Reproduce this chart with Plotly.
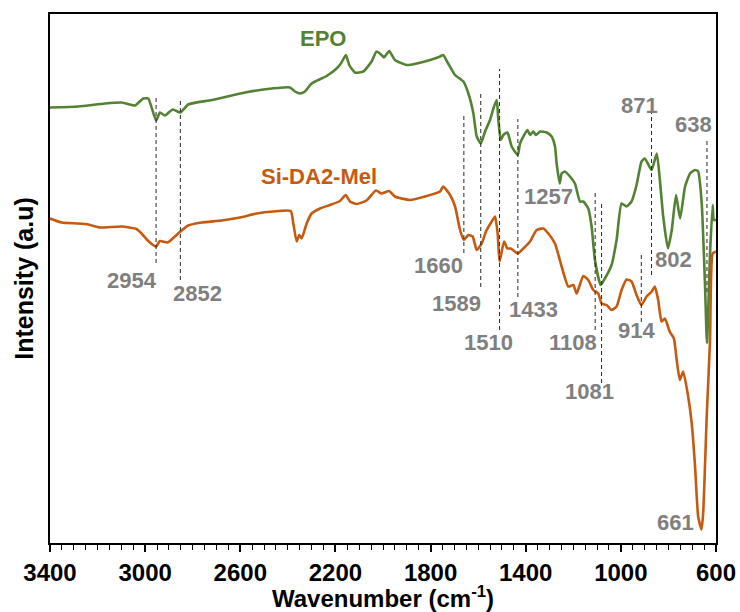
import plotly.graph_objects as go

# FTIR spectra (wavenumber in cm-1, transmittance in arbitrary units)
epo_wn = [3400, 3281, 3169, 3099, 3043, 3008, 2987, 2954, 2938, 2917, 2884, 2852,
          2819, 2720, 2580, 2517, 2391, 2370, 2349, 2328, 2300, 2237, 2195, 2177,
          2156, 2142, 2118, 2083, 2048, 2027, 2006, 1996, 1974, 1950, 1900, 1858,
          1802, 1760, 1747, 1726, 1697, 1662, 1641, 1620, 1606, 1589, 1571, 1550,
          1536, 1522, 1515, 1505, 1494, 1477, 1459, 1433, 1424, 1393, 1382, 1368,
          1357, 1340, 1312, 1291, 1277, 1270, 1257, 1249, 1235, 1214, 1193, 1172,
          1158, 1137, 1123, 1109, 1085, 1067, 1039, 1018, 997, 976, 955, 934, 913,
          899, 871, 849, 836, 822, 802, 786, 768, 751, 730, 709, 688, 675, 660,
          646, 638, 625, 614, 609, 600]
epo_int = [87.1, 87.3, 87.9, 88.1, 87.5, 88.9, 88.9, 84.5, 86.1, 85.5, 86.7, 86.1,
           87.7, 88.6, 90.1, 90.6, 91.1, 90.3, 89.9, 90.3, 91.9, 93.4, 94.9, 95.9,
           97.6, 95.6, 94.1, 94.3, 96.3, 98.3, 97.6, 97.1, 98.4, 96.6, 95.6, 95.9,
           96.6, 97.3, 97.6, 95.9, 93.6, 92.3, 89.9, 85.9, 81.3, 79.9, 82.3, 84.6,
           86.9, 88.6, 84.6, 80.6, 81.6, 82.1, 79.3, 77.6, 79.9, 82.6, 81.6, 82.3,
           81.6, 82.3, 82.1, 81.3, 79.3, 75.9, 71.9, 73.9, 74.3, 73.3, 71.9, 68.3,
           68.3, 66.9, 63.3, 56.6, 51.6, 52.9, 55.6, 60.6, 67.9, 67.3, 68.3, 71.6,
           76.3, 76.9, 74.6, 77.9, 72.6, 65.3, 58.9, 62.6, 69.6, 64.9, 71.3, 73.9,
           74.6, 74.3, 67.9, 51.3, 40.0, 58.0, 67.6, 64.6, 64.6]

mel_wn = [3400, 3351, 3281, 3239, 3190, 3099, 3036, 3015, 2987, 2954, 2938, 2905,
          2875, 2852, 2819, 2762, 2678, 2601, 2531, 2461, 2388, 2377, 2363, 2352,
          2342, 2321, 2300, 2265, 2223, 2181, 2157, 2139, 2111, 2069, 2030, 2006,
          1974, 1950, 1887, 1816, 1760, 1747, 1718, 1697, 1676, 1660, 1641, 1623,
          1606, 1585, 1567, 1543, 1529, 1518, 1510, 1491, 1477, 1463, 1433, 1410,
          1382, 1354, 1326, 1305, 1277, 1249, 1221, 1200, 1186, 1158, 1137, 1116,
          1095, 1081, 1060, 1039, 1018, 997, 976, 955, 934, 914, 892, 870, 857,
          843, 829, 815, 794, 777, 766, 752, 738, 717, 702, 688, 675, 661, 654,
          639, 625, 614, 600]
mel_int = [64.9, 64.1, 63.9, 63.7, 63.1, 63.3, 62.8, 61.9, 60.4, 59.3, 60.4, 60.1,
           61.3, 62.3, 63.5, 64.1, 64.5, 65.1, 65.9, 66.3, 66.4, 63.9, 60.3, 61.6,
           60.9, 63.9, 65.9, 66.9, 67.6, 68.4, 69.6, 68.3, 67.8, 68.5, 70.5, 69.9,
           70.4, 69.3, 68.6, 69.4, 70.3, 71.3, 69.6, 67.3, 62.6, 60.6, 61.6, 61.3,
           58.6, 59.9, 62.3, 64.3, 65.3, 61.9, 56.3, 60.3, 58.9, 58.9, 57.9, 58.9,
           60.3, 62.6, 62.9, 61.9, 59.9, 55.3, 51.3, 51.6, 49.9, 53.4, 52.6, 50.6,
           49.9, 47.9, 47.6, 46.6, 47.3, 50.6, 52.7, 52.3, 49.6, 47.6, 49.3, 50.3,
           51.3, 48.6, 44.3, 44.9, 42.2, 40.9, 36.9, 32.6, 34.3, 29.3, 23.9, 15.3,
           5.3, 2.7, 5.9, 25.3, 40.6, 57.9, 58.3]

# Marked band positions with the extent of their guide lines
guide_wn = [2954, 2852, 1660, 1589, 1510, 1433, 1108, 1081, 914, 871, 638]
guide_top = [89.0, 88.6, 85.8, 90.0, 94.8, 84.8, 70.4, 67.8, 58.0, 87.2, 80.6]
guide_bottom = [56.0, 52.6, 58.0, 51.2, 42.6, 49.2, 42.6, 32.0, 44.2, 53.6, 50.2]

# Band labels and where they sit (wavenumber, intensity)
band_labels = ["2954", "2852", "1660", "1589", "1510", "1433", "1257",
               "1108", "1081", "914", "871", "802", "638", "661"]
band_label_x = [3055, 2782, 1765, 1689, 1557, 1369, 1306,
                1201, 1132, 936, 920, 779, 695, 770]
band_label_y = [52.6, 50.0, 55.6, 48.0, 40.2, 46.8, 69.4,
                40.2, 30.4, 42.6, 87.6, 56.8, 83.8, 4.2]

GREEN = "#548235"
ORANGE = "#C55A11"
GREY = "#7F7F7F"
FONT = "Liberation Sans, Arial, sans-serif"

fig = go.Figure()
fig.add_trace(go.Scatter(x=epo_wn, y=epo_int, mode="lines", name="EPO",
                         line=dict(color=GREEN, width=2.6, shape="spline", smoothing=0.5)))
fig.add_trace(go.Scatter(x=mel_wn, y=mel_int, mode="lines", name="Si-DA2-Mel",
                         line=dict(color=ORANGE, width=2.6, shape="spline", smoothing=0.5)))

for wn, top, bot in zip(guide_wn, guide_top, guide_bottom):
    fig.add_shape(type="line", xref="x", yref="y", x0=wn, x1=wn, y0=bot, y1=top,
                  line=dict(color="#262626", width=1, dash="4px,3px"), layer="above")

for txt, lx, ly in zip(band_labels, band_label_x, band_label_y):
    fig.add_annotation(x=lx, y=ly, text=txt, showarrow=False, xanchor="center", yanchor="middle",
                       font=dict(family=FONT, size=22, color=GREY, weight="bold"))

fig.add_annotation(x=2254, y=100.9, text="EPO", showarrow=False,
                   font=dict(family=FONT, size=22, color=GREEN, weight="bold"))
fig.add_annotation(x=2269, y=73.4, text="Si-DA2-Mel", showarrow=False,
                   font=dict(family=FONT, size=22, color=ORANGE, weight="bold"))

fig.update_layout(
    width=740, height=612,
    margin=dict(l=50, r=24, t=14, b=69),
    paper_bgcolor="white", plot_bgcolor="white",
    showlegend=False,
    font=dict(family=FONT, color="black"),
)
fig.update_xaxes(
    range=[3400, 600], tickvals=list(range(3400, 599, -400)),
    automargin=False,
    ticks="outside", ticklen=7, tickwidth=1.5, tickcolor="black",
    minor=dict(dtick=50, ticks="outside", ticklen=5, tickwidth=1, tickcolor="black"),
    showline=True, linecolor="black", linewidth=1.5, mirror=True,
    showgrid=False, zeroline=False,
    tickfont=dict(family=FONT, size=24, color="black", weight="bold"),
    title=dict(text="Wavenumber (cm<sup>-1</sup>)", standoff=4,
               font=dict(family=FONT, size=24, color="black", weight="bold")),
)
fig.update_yaxes(
    range=[0, 105.8], showticklabels=False, ticks="",
    automargin=False,
    showline=True, linecolor="black", linewidth=1.5, mirror=True,
    showgrid=False, zeroline=False,
    title=dict(text="Intensity (a.u)", standoff=8,
               font=dict(family=FONT, size=25, color="black", weight="bold")),
)

fig.write_html("out.html")
